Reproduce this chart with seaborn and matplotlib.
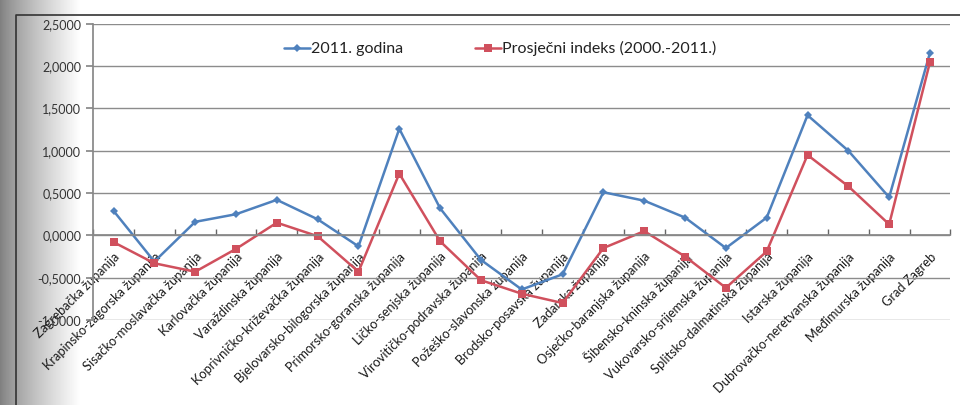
import numpy as np
import pandas as pd
import matplotlib
matplotlib.use("Agg")
import matplotlib.pyplot as plt
import matplotlib.transforms as mtransforms
import seaborn as sns
from matplotlib.ticker import FuncFormatter, FixedLocator

counties = [
    "Zagrebačka županija", "Krapinsko-zagorska županija", "Sisačko-moslavačka županija",
    "Karlovačka županija", "Varaždinska županija", "Koprivničko-križevačka županija",
    "Bjelovarsko-bilogorska županija", "Primorsko-goranska županija", "Ličko-senjska županija",
    "Virovitičko-podravska županija", "Požeško-slavonska županija", "Brodsko-posavska županija",
    "Zadarska županija", "Osječko-baranjska županija", "Šibensko-kninska županija",
    "Vukovarsko-srijemska županija", "Splitsko-dalmatinska županija", "Istarska županija",
    "Dubrovačko-neretvanska županija", "Međimurska županija", "Grad Zagreb",
]
values_2011 = [0.29, -0.31, 0.16, 0.25, 0.42, 0.19, -0.13, 1.26, 0.32, -0.29, -0.64,
               -0.46, 0.51, 0.41, 0.21, -0.15, 0.21, 1.42, 1.00, 0.45, 2.16]
values_avg = [-0.08, -0.33, -0.43, -0.16, 0.15, -0.01, -0.43, 0.73, -0.07, -0.53, -0.69,
              -0.80, -0.15, 0.05, -0.25, -0.62, -0.19, 0.95, 0.58, 0.13, 2.05]
series_names = ["2011. godina", "Prosječni indeks (2000.-2011.)"]
y_ticks = [-1.0, -0.5, 0.0, 0.5, 1.0, 1.5, 2.0, 2.5]

sns.set_theme(style="white")
plt.rcParams["font.family"] = ["Lato", "DejaVu Sans"]

df = pd.DataFrame({
    "county": counties * 2,
    "value": values_2011 + values_avg,
    "series": [series_names[0]] * len(counties) + [series_names[1]] * len(counties),
})

fig = plt.figure(figsize=(9.6, 4.05), dpi=100)
fig.patch.set_facecolor("white")

# scanned-page shadow on the left
bg = fig.add_axes([0, 0, 1, 1], zorder=-10)
xs = np.arange(960)
grad = np.tile(np.clip(0.5 + 0.5 * (xs / 80.0) ** 0.8, 0, 1), (10, 1))
bg.imshow(grad, cmap="gray", vmin=0, vmax=1, aspect="auto", extent=[0, 1, 0, 1])
bg.axis("off")
# chart frame
bg.plot([0.017, 0.017, 1.0], [0.0, 0.963, 0.963], color="#333333", lw=1.2,
        transform=bg.transAxes)

ax = fig.add_axes([0.097, 0.21, 0.893, 0.731])
ax.set_facecolor("none")

palette = {series_names[0]: "#4F81BD", series_names[1]: "#D0505D"}
sns.lineplot(data=df, x="county", y="value", hue="series", style="series",
             markers={series_names[0]: "D", series_names[1]: "s"},
             dashes=False, palette=palette, sort=False, lw=1.8,
             markersize=6, markeredgewidth=0, ax=ax)
for line in ax.lines:
    if line.get_marker() == "D":
        line.set_markersize(4.5)

ax.set_xlim(-0.5, len(counties) - 0.5)
ax.set_ylim(-1.0, 2.5)
ax.yaxis.set_major_locator(FixedLocator(y_ticks))
ax.yaxis.set_major_formatter(FuncFormatter(lambda v, p: f"{v:.4f}".replace(".", ",")))
ax.grid(axis="y", color="#8c8c8c", lw=1.0)
ax.set_axisbelow(True)

for s in ["top", "right"]:
    ax.spines[s].set_visible(False)
ax.spines["left"].set_color("#888888")
ax.spines["bottom"].set_position(("data", 0))
ax.spines["bottom"].set_color("#888888")

ax.set_xticks(range(len(counties)))
ax.set_xticklabels(counties, rotation=45, ha="right", rotation_mode="anchor",
                   fontsize=9.3, color="#1a1a1a")
shift = mtransforms.ScaledTranslation(-6 / 100, 0, fig.dpi_scale_trans)
for lab in ax.get_xticklabels():
    lab.set_transform(lab.get_transform() + shift)
ax.set_xticks(np.arange(-0.5, len(counties), 1.0), minor=True)
ax.tick_params(axis="x", which="major", length=0, pad=11)
ax.tick_params(axis="x", which="minor", length=4, direction="in", color="#666666", bottom=True)
ax.tick_params(axis="y", length=5, color="#888888", labelsize=9, labelcolor="#333333", left=True)
ax.set_xlabel("")
ax.set_ylabel("")

leg = ax.legend(loc="upper center", bbox_to_anchor=(0.475, 0.99), ncol=2, frameon=False,
                fontsize=11.5, handlelength=1.6, handletextpad=0.1, columnspacing=4.5)
for t in leg.get_texts():
    t.set_color("#222222")

fig.savefig("out.png", dpi=100)
